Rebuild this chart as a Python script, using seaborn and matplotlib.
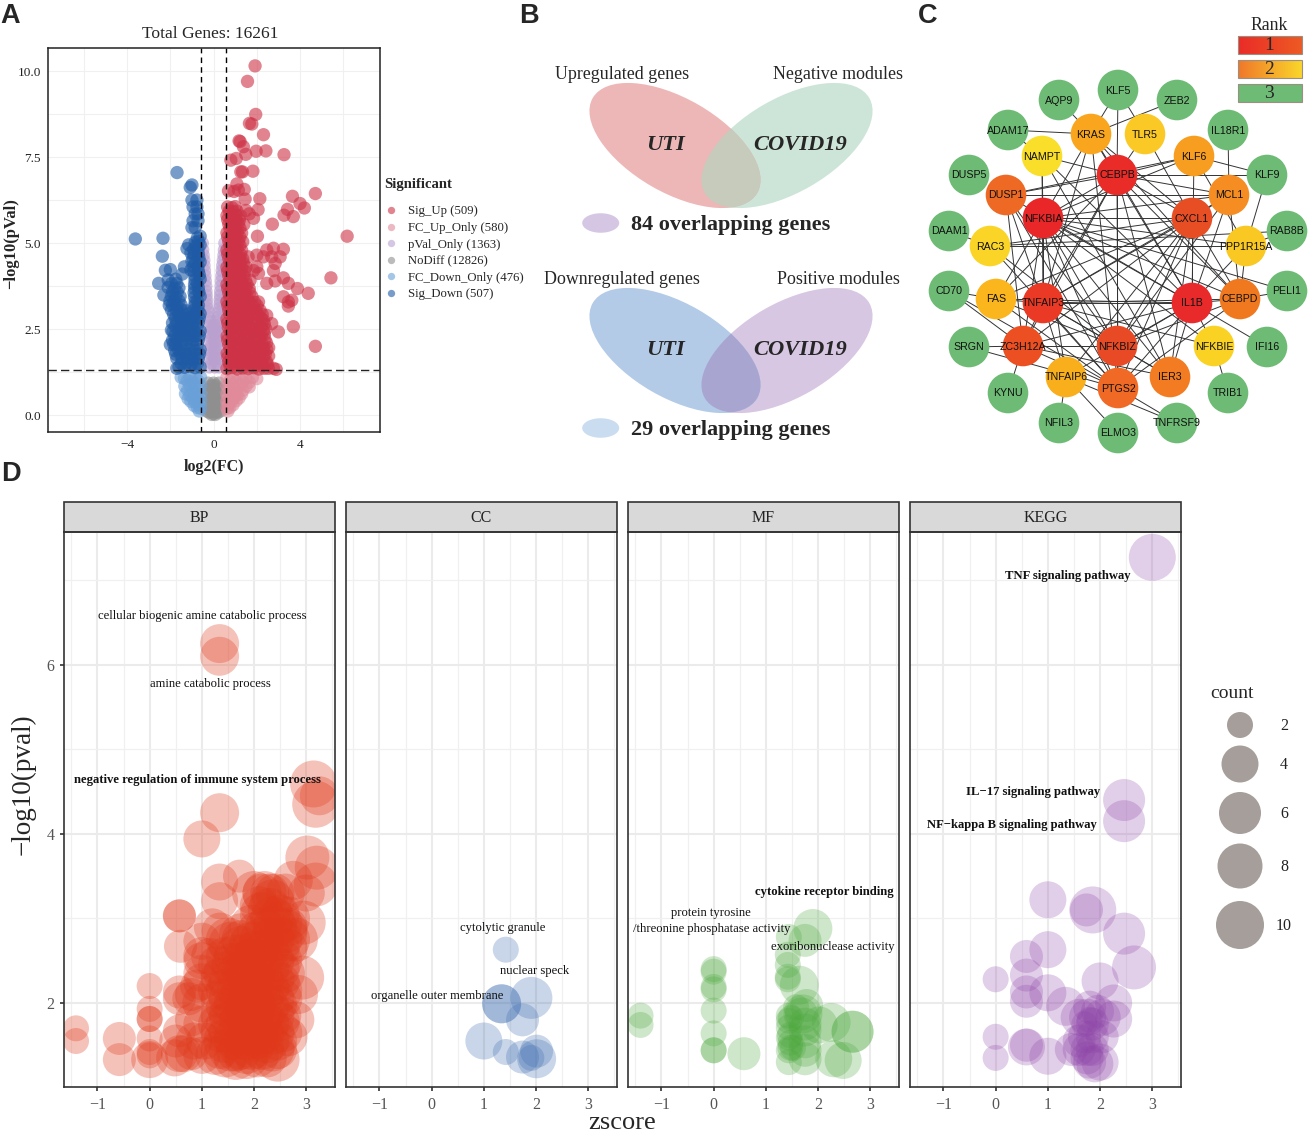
import numpy as np
import pandas as pd
import seaborn as sns
import matplotlib.pyplot as plt
from matplotlib.collections import LineCollection
from matplotlib.colors import LinearSegmentedColormap
from matplotlib.patches import Ellipse, Rectangle
from matplotlib.ticker import MultipleLocator

W, H = 1308, 1132

# ---- panel A, volcano points: (log2FC, -log10 p)
sig_up = [
    (1.92, 10.15), (1.57, 9.7), (1.95, 8.74), (1.66, 8.48), (1.77, 8.46), (2.31, 8.15), (1.18, 7.97), (1.23, 7.95),
    (1.38, 7.8), (1.49, 7.58), (1.97, 7.67), (2.42, 7.68), (3.26, 7.57), (0.8, 7.41), (1.05, 7.46), (1.26, 7.07),
    (1.34, 7.07), (1.82, 7.09), (1.08, 6.72), (1.42, 6.56), (0.69, 6.52), (1.15, 6.54), (0.95, 6.5), (1.46, 6.28),
    (2.14, 6.29), (3.65, 6.36), (4.71, 6.44), (4.0, 6.15), (4.2, 6.02), (3.42, 5.98), (3.26, 5.81), (3.69, 5.77),
    (2.06, 5.97), (1.85, 5.72), (2.72, 5.55), (6.18, 5.2), (2.03, 5.2), (1.65, 5.85), (1.5, 5.95),
    (3.23, 4.82), (2.77, 4.85), (2.46, 4.8), (2.0, 4.65), (2.31, 4.6), (2.69, 4.6), (3.08, 4.6), (2.85, 4.41),
    (2.0, 4.31), (1.85, 4.2), (2.08, 4.12), (2.77, 4.2), (2.46, 3.83), (2.85, 3.9), (3.23, 3.99), (3.46, 3.83),
    (3.88, 3.68), (4.38, 3.54), (5.43, 3.99), (3.23, 3.44), (3.46, 3.29), (3.62, 3.34), (3.46, 3.17), (3.69, 2.57),
    (3.0, 2.42), (4.71, 2.0), (2.46, 2.9), (2.69, 2.66), (2.31, 2.76), (2.08, 3.29), (2.46, 1.91), (2.77, 1.36),
    (2.54, 1.36), (1.69, 3.92), (1.6, 4.6), (2.9, 1.33),
    (0.62, 1.35), (0.85, 1.38), (1.1, 1.34), (1.35, 1.37), (1.6, 1.35), (1.85, 1.38), (2.1, 1.34), (2.35, 1.36),
    (0.7, 1.55), (0.95, 1.58), (1.2, 1.54), (1.45, 1.57), (1.7, 1.55), (1.95, 1.58), (2.2, 1.54), (2.45, 1.56),
    (0.63, 1.8), (0.88, 1.82), (1.12, 1.78), (1.38, 1.81), (1.62, 1.79), (1.88, 1.82), (2.15, 1.8), (2.4, 1.78),
    (0.7, 2.05), (0.95, 2.03), (1.2, 2.06), (1.45, 2.04), (1.72, 2.05), (2.0, 2.03), (2.25, 2.06), (2.45, 2.1),
    (0.63, 2.3), (0.9, 2.28), (1.15, 2.31), (1.42, 2.29), (1.68, 2.3), (1.95, 2.28), (2.2, 2.31), (2.35, 2.35),
    (0.68, 2.55), (0.93, 2.53), (1.2, 2.56), (1.45, 2.54), (1.7, 2.55), (1.95, 2.53), (2.2, 2.56),
    (0.62, 2.8), (0.88, 2.78), (1.12, 2.81), (1.38, 2.79), (1.6, 2.8), (1.85, 2.78), (2.2, 2.82),
    (0.7, 3.05), (0.95, 3.03), (1.2, 3.06), (1.45, 3.04), (1.7, 3.05), (1.95, 3.03), (2.15, 3.05),
    (0.62, 3.3), (0.88, 3.28), (1.15, 3.31), (1.4, 3.29), (1.65, 3.3), (1.9, 3.28),
    (0.7, 3.55), (0.95, 3.53), (1.2, 3.56), (1.45, 3.54), (1.68, 3.56),
    (0.62, 3.8), (0.85, 3.78), (1.1, 3.81), (1.35, 3.79), (1.55, 3.8),
    (0.7, 4.05), (0.95, 4.03), (1.2, 4.06), (1.4, 4.04),
    (0.62, 4.3), (0.88, 4.28), (1.1, 4.31), (1.3, 4.29), (1.5, 4.3),
    (0.7, 4.55), (0.95, 4.53), (1.2, 4.56), (1.35, 4.54),
    (0.62, 4.8), (0.9, 4.78), (1.1, 4.81), (1.3, 4.79),
    (0.7, 5.05), (0.95, 5.03), (1.15, 5.06), (1.35, 5.04),
    (0.62, 5.3), (0.88, 5.28), (1.1, 5.31), (1.3, 5.29),
    (0.7, 5.55), (0.95, 5.53), (1.15, 5.56), (1.4, 5.54),
    (0.62, 5.8), (0.85, 5.78), (1.05, 5.81), (1.25, 5.79),
    (0.65, 6.05), (0.85, 6.03), (1.0, 6.06),
    # the dense body, second pass
    (0.75, 1.45), (1.0, 1.46), (1.25, 1.44), (1.5, 1.47), (1.75, 1.45), (2.0, 1.46), (2.25, 1.44), (2.5, 1.47),
    (0.66, 1.68), (0.82, 1.7), (1.08, 1.67), (1.32, 1.69), (1.56, 1.67), (1.82, 1.7), (2.08, 1.68), (2.32, 1.69), (2.55, 1.72),
    (0.75, 1.93), (1.0, 1.94), (1.26, 1.92), (1.52, 1.95), (1.78, 1.93), (2.05, 1.92), (2.3, 1.95), (2.55, 1.96),
    (0.65, 2.18), (0.82, 2.16), (1.08, 2.19), (1.32, 2.17), (1.58, 2.18), (1.85, 2.17), (2.12, 2.19), (2.38, 2.2),
    (0.76, 2.43), (1.02, 2.42), (1.3, 2.44), (1.55, 2.42), (1.82, 2.43), (2.08, 2.42), (2.3, 2.45), (2.42, 2.5),
    (0.65, 2.68), (0.8, 2.66), (1.05, 2.68), (1.3, 2.67), (1.55, 2.69), (1.8, 2.66), (2.05, 2.68), (2.35, 2.65),
    (0.75, 2.93), (1.0, 2.91), (1.25, 2.93), (1.52, 2.92), (1.78, 2.94), (2.05, 2.92), (2.25, 2.93),
    (0.66, 3.18), (0.82, 3.16), (1.08, 3.18), (1.32, 3.17), (1.58, 3.19), (1.82, 3.17), (2.02, 3.18),
    (0.75, 3.43), (1.02, 3.41), (1.28, 3.43), (1.55, 3.42), (1.78, 3.44),
    (0.65, 3.68), (0.82, 3.66), (1.08, 3.68), (1.3, 3.67), (1.5, 3.69), (1.65, 3.68),
    (0.75, 3.93), (1.0, 3.91), (1.25, 3.93), (1.48, 3.92),
    (0.65, 4.18), (0.82, 4.16), (1.05, 4.18), (1.28, 4.17), (1.45, 4.18),
    (0.75, 4.43), (1.0, 4.41), (1.22, 4.43), (1.38, 4.42),
    (0.65, 4.68), (0.82, 4.66), (1.05, 4.68), (1.25, 4.67),
    (0.75, 4.93), (1.0, 4.91), (1.22, 4.93),
    (0.65, 5.18), (0.82, 5.16), (1.02, 5.18), (1.22, 5.17),
    (0.75, 5.43), (1.0, 5.41), (1.22, 5.43),
    (0.65, 5.68), (0.82, 5.66), (1.05, 5.68), (1.2, 5.67),
    (0.72, 5.93), (0.92, 5.91), (1.08, 5.93),
]
sig_down = [
    (-3.62, 5.12), (-2.34, 5.14), (-2.37, 4.62), (-2.23, 4.21), (-2.0, 4.23), (-2.54, 3.83), (-2.3, 3.49),
    (-1.69, 7.05), (-1.0, 6.69), (-1.08, 6.62), (-0.77, 6.25), (-1.0, 6.25), (-0.95, 6.05), (-0.77, 6.05),
    (-0.85, 5.85), (-0.72, 5.85), (-0.95, 5.65), (-0.72, 5.65), (-1.0, 5.45), (-0.85, 5.45), (-0.75, 5.15),
    (-0.62, 5.2), (-1.23, 4.84), (-1.15, 4.95), (-1.35, 4.31), (-1.45, 4.1),
    (-0.62, 1.4), (-0.85, 1.38), (-1.1, 1.41), (-1.35, 1.39), (-1.6, 1.4), (-1.7, 1.36),
    (-0.7, 1.65), (-0.95, 1.63), (-1.2, 1.66), (-1.45, 1.64), (-1.7, 1.65),
    (-0.62, 1.9), (-0.88, 1.88), (-1.12, 1.91), (-1.38, 1.89), (-1.62, 1.9), (-1.8, 1.88),
    (-2.0, 2.05), (-1.85, 2.07),
    (-0.7, 2.2), (-0.95, 2.18), (-1.2, 2.21), (-1.45, 2.19), (-1.7, 2.2), (-1.9, 2.18),
    (-0.62, 2.45), (-0.88, 2.43), (-1.12, 2.46), (-1.38, 2.44), (-1.62, 2.45), (-1.88, 2.43), (-1.95, 2.47),
    (-0.7, 2.7), (-0.95, 2.68), (-1.2, 2.71), (-1.45, 2.69), (-1.7, 2.7), (-1.9, 2.68),
    (-0.62, 2.95), (-0.88, 2.93), (-1.12, 2.96), (-1.38, 2.94), (-1.62, 2.95), (-1.85, 2.93),
    (-0.7, 3.2), (-0.88, 3.18), (-1.5, 3.2), (-1.7, 3.18), (-1.9, 3.21), (-2.05, 3.19),
    (-0.62, 3.45), (-0.88, 3.43), (-1.55, 3.45), (-1.75, 3.43), (-1.95, 3.46),
    (-0.7, 3.7), (-0.88, 3.68), (-1.6, 3.7), (-1.8, 3.68), (-2.1, 3.71),
    (-0.62, 3.95), (-0.86, 3.93), (-1.75, 3.95), (-2.1, 3.93),
    (-0.7, 4.2), (-0.9, 4.18), (-1.05, 4.22),
    (-0.62, 4.45), (-0.85, 4.43), (-1.0, 4.47),
    (-0.7, 4.7), (-0.9, 4.68), (-1.05, 4.72),
    (-0.62, 4.95), (-0.8, 4.93),
    # the dense body, second pass
    (-0.75, 1.5), (-1.0, 1.5), (-1.25, 1.52), (-1.5, 1.5), (-0.65, 1.78), (-0.82, 1.76), (-1.08, 1.78), (-1.3, 1.77),
    (-1.55, 1.78), (-1.75, 1.77), (-0.75, 2.05), (-1.0, 2.04), (-1.28, 2.05), (-1.52, 2.04), (-1.75, 2.05),
    (-0.66, 2.32), (-0.85, 2.3), (-1.08, 2.32), (-1.32, 2.31), (-1.55, 2.32), (-1.8, 2.31), (-0.76, 2.58), (-1.02, 2.56),
    (-1.28, 2.58), (-1.52, 2.57), (-1.78, 2.58), (-0.66, 2.83), (-0.82, 2.81), (-1.08, 2.83), (-1.3, 2.82), (-1.55, 2.83),
    (-1.78, 2.82), (-0.72, 3.07), (-0.9, 3.05), (-1.25, 3.03), (-1.48, 3.06), (-1.72, 3.05), (-1.95, 3.06),
    (-0.75, 3.32), (-0.85, 3.3), (-1.6, 3.32), (-1.82, 3.31), (-2.02, 3.32), (-0.68, 3.58), (-0.9, 3.56), (-1.68, 3.57),
    (-1.9, 3.58), (-0.75, 3.82), (-0.88, 3.8), (-1.7, 3.83), (-1.95, 3.82), (-0.66, 4.08), (-0.88, 4.06), (-0.72, 4.33),
    (-0.95, 4.32), (-0.68, 4.58), (-0.95, 4.57), (-0.72, 4.83), (-0.92, 4.82), (-0.7, 5.05), (-0.85, 5.02),
]
pval_only = [
    (-0.2, 1.4), (0.05, 1.4), (0.25, 1.4), (-0.2, 1.65), (0.05, 1.65), (0.25, 1.65), (-0.2, 1.9), (0.05, 1.9),
    (0.25, 1.9), (-0.2, 2.15), (0.05, 2.15), (0.25, 2.15), (-0.2, 2.4), (0.05, 2.4), (0.25, 2.4), (-0.2, 2.6),
    (0.03, 2.6), (0.2, 2.6), (-0.25, 2.85), (0.22, 2.85), (-0.3, 3.1), (0.28, 3.1), (-0.33, 3.35), (0.3, 3.35),
    (-0.35, 3.6), (0.33, 3.6), (-0.38, 3.9), (0.36, 3.9), (-0.42, 4.2), (0.4, 4.2), (-0.45, 4.5), (0.45, 4.5),
    (-0.5, 4.8), (0.5, 4.8), (0.52, 5.0), (-0.52, 5.0),
    (-0.1, 1.52), (0.12, 1.53), (-0.12, 1.78), (0.14, 1.77), (-0.1, 2.02), (0.12, 2.03), (-0.12, 2.28), (0.14, 2.27),
    (-0.08, 2.5), (0.1, 2.5), (-0.15, 2.72), (0.14, 2.73), (-0.26, 3.0), (0.25, 2.98), (-0.32, 3.22), (0.3, 3.23),
    (-0.34, 3.48), (0.32, 3.48), (-0.36, 3.75), (0.35, 3.75), (-0.4, 4.05), (0.38, 4.05), (-0.44, 4.35), (0.42, 4.35),
    (-0.48, 4.65), (0.48, 4.65),
]
fc_down = [
    (-0.6, 1.1), (-0.85, 1.08), (-1.1, 1.1), (-1.35, 1.07), (-1.5, 1.1), (-0.6, 0.85), (-0.85, 0.83), (-1.1, 0.86),
    (-1.33, 0.84), (-0.6, 0.6), (-0.85, 0.62), (-1.1, 0.58), (-1.3, 0.62), (-0.6, 0.4), (-0.85, 0.38), (-1.05, 0.4),
    (-0.6, 0.2), (-0.75, 0.22),
    (-0.72, 1.0), (-0.98, 0.98), (-1.22, 1.0), (-0.7, 0.73), (-0.95, 0.72), (-1.2, 0.73), (-0.72, 0.5), (-0.96, 0.5),
    (-1.18, 0.48), (-0.7, 0.3), (-0.9, 0.28), (-0.66, 0.12),
]
fc_up = [
    (0.62, 1.1), (0.9, 1.08), (1.2, 1.1), (1.5, 1.07), (1.8, 1.1), (2.0, 1.06), (0.62, 0.85), (0.9, 0.83),
    (1.2, 0.86), (1.5, 0.84), (1.65, 0.82), (0.62, 0.6), (0.9, 0.62), (1.1, 0.58), (1.3, 0.62), (0.62, 0.4),
    (0.8, 0.38), (1.05, 0.42), (0.62, 0.2), (0.75, 0.22),
    (0.75, 0.98), (1.05, 0.97), (1.35, 0.98), (1.65, 0.96), (0.75, 0.72), (1.05, 0.73), (1.35, 0.72), (0.72, 0.5),
    (0.95, 0.5), (1.18, 0.5), (0.7, 0.3), (0.9, 0.3), (0.66, 0.12),
]
no_diff = [
    (-0.25, 0.93), (0.0, 0.93), (0.25, 0.93), (-0.25, 0.75), (0.0, 0.75), (0.25, 0.75), (-0.25, 0.55), (0.0, 0.55),
    (0.25, 0.55), (-0.25, 0.35), (0.0, 0.35), (0.25, 0.35), (-0.32, 0.12), (-0.2, 0.08), (-0.08, 0.02), (0.08, 0.02),
    (0.2, 0.08), (0.32, 0.12),
    (-0.12, 0.85), (0.12, 0.85), (-0.12, 0.65), (0.12, 0.65), (-0.12, 0.45), (0.12, 0.45), (-0.12, 0.25), (0.12, 0.25),
    (0.0, 0.15), (-0.1, 0.1), (0.1, 0.1), (0.0, 0.05), (-0.02, 0.85), (0.02, 0.45),
]
group_names = ["Sig_Up", "FC_Up_Only", "pVal_Only", "NoDiff", "FC_Down_Only", "Sig_Down"]
group_totals = [509, 580, 1363, 12826, 476, 507]
group_colors = ["#cd3246", "#e08a9a", "#b9a0cf", "#8f8f8f", "#6aa0d8", "#1e5aa5"]

# ---- panel B
venn_top = ["Upregulated genes", "Negative modules", "84 overlapping genes"]
venn_bottom = ["Downregulated genes", "Positive modules", "29 overlapping genes"]

# ---- panel C, layout of the network in picture pixels
node_names = ["KLF5", "AQP9", "ZEB2", "ADAM17", "IL18R1", "DUSP5", "KLF9", "DAAM1", "RAB8B", "CD70", "PELI1", "SRGN",
              "IFI16", "KYNU", "TRIB1", "NFIL3", "TNFRSF9", "ELMO3", "KRAS", "TLR5", "NAMPT", "KLF6", "DUSP1", "MCL1",
              "RAC3", "PPP1R15A", "FAS", "CEBPD", "ZC3H12A", "NFKBIE", "TNFAIP6", "IER3", "PTGS2", "CEBPB", "NFKBIA",
              "CXCL1", "IL1B", "TNFAIP3", "NFKBIZ"]
node_x = [1118, 1059, 1177, 1008, 1228, 969, 1267, 949, 1287, 949, 1287, 969, 1267, 1008, 1228, 1059, 1177, 1118,
          1091, 1145, 1042, 1194, 1006, 1229, 990, 1246, 996, 1240, 1023, 1214, 1066, 1170, 1118, 1117, 1043, 1192,
          1192, 1043, 1117]
node_y = [90, 100, 100, 130, 130, 175, 175, 231, 231, 291, 291, 347, 347, 393, 393, 423, 423, 433, 134, 134, 156, 156,
          195, 195, 246, 246, 299, 299, 346, 346, 377, 377, 388, 175, 218, 218, 303, 303, 346]
node_colors = ["#6dbb74"] * 18 + ["#f9a61e", "#fbc926", "#f9de2a", "#f79d20", "#ee6a24", "#f58d22", "#fad527", "#fac822",
                                  "#fbb61e", "#f0781f", "#eb4f22", "#fad224", "#f9ae1b", "#f37c22", "#f06a25", "#ea2c28",
                                  "#e92728", "#e84e24", "#e92a2b", "#ea3a26", "#e84a25"]
edge_map = {
    "CEBPB": ["KLF6", "MCL1", "DUSP1", "NFKBIA", "CXCL1", "IL1B", "TNFAIP3", "NFKBIZ", "PTGS2", "ZC3H12A", "KLF9", "KRAS",
              "TLR5", "NAMPT", "FAS", "CEBPD", "IER3", "KLF5"],
    "NFKBIA": ["KRAS", "NAMPT", "CXCL1", "IL1B", "TNFAIP3", "NFKBIZ", "PTGS2", "CEBPD", "ZC3H12A", "MCL1", "KLF6", "IER3",
               "PELI1", "NFKBIE", "TNFAIP6", "PPP1R15A", "FAS"],
    "CXCL1": ["IL1B", "TNFAIP3", "NFKBIZ", "PTGS2", "MCL1", "ZC3H12A", "FAS", "KRAS", "TLR5", "CEBPD", "IER3", "TNFAIP6", "RAC3"],
    "IL1B": ["TNFAIP3", "NFKBIZ", "PTGS2", "ZC3H12A", "MCL1", "KRAS", "FAS", "DUSP1", "NFKBIE", "IER3", "TNFAIP6", "CEBPD",
             "IFI16", "PPP1R15A", "NAMPT", "KLF6"],
    "TNFAIP3": ["NFKBIZ", "PTGS2", "ZC3H12A", "DUSP1", "KRAS", "NAMPT", "FAS", "NFKBIE", "IER3", "MCL1", "TNFAIP6", "CEBPD"],
    "NFKBIZ": ["PTGS2", "ZC3H12A", "DUSP1", "RAC3", "IER3", "CEBPD", "MCL1", "FAS"],
    "PTGS2": ["ZC3H12A", "CD70", "SRGN", "TNFRSF9", "FAS", "RAC3", "CEBPD", "DUSP1", "KRAS"],
    "KRAS": ["AQP9", "ZEB2", "ADAM17", "KLF5", "CEBPD"],
    "TLR5": ["KLF5"],
    "NAMPT": ["ADAM17", "IER3"],
    "IL18R1": ["MCL1"],
    "KLF9": ["PPP1R15A", "KLF6"],
    "RAB8B": ["PPP1R15A", "RAC3"],
    "PPP1R15A": ["RAC3", "CEBPD"],
    "PELI1": ["CEBPD"],
    "TRIB1": ["NFKBIE"],
    "DAAM1": ["RAC3"],
    "CD70": ["FAS", "ZC3H12A"],
    "SRGN": ["ZC3H12A"],
    "KYNU": ["ZC3H12A"],
    "NFIL3": ["TNFAIP6"],
    "ELMO3": ["TNFAIP6"],
    "TNFRSF9": ["TNFAIP6"],
    "ZC3H12A": ["IER3", "DUSP1"],
    "KLF6": ["DUSP1", "PPP1R15A"],
    "MCL1": ["CEBPD", "DUSP1"],
}

# ---- panel D, bubbles: (zscore, -log10 p, count)
bp_terms = [
    (1.34, 6.25, 5), (1.34, 6.1, 5), (1.34, 4.25, 5), (1.0, 3.94, 4), (3.14, 4.59, 10), (3.25, 4.45, 5), (3.18, 4.35, 10),
    (1.34, 3.43, 4), (1.72, 3.5, 3), (1.34, 3.21, 4), (0.57, 3.03, 3), (0.57, 3.03, 3), (0.59, 2.67, 3), (1.0, 2.73, 4),
    (1.0, 2.56, 4), (1.0, 2.5, 4), (1.0, 2.25, 4), (0.0, 2.2, 2), (0.0, 1.93, 2), (0.0, 1.81, 2), (0.0, 1.58, 2),
    (0.0, 1.38, 2), (0.0, 1.33, 4), (0.0, 1.81, 2), (-1.41, 1.7, 2), (-1.41, 1.55, 2), (-0.58, 1.58, 3), (-0.58, 1.33, 3),
    (0.57, 2.13, 3), (0.57, 2.05, 3), (0.57, 1.67, 3), (0.57, 1.4, 4), (0.48, 1.35, 4), (0.8, 1.4, 3), (1.0, 1.38, 4),
    (1.05, 1.55, 4), (1.0, 1.75, 4), (1.0, 2.0, 5), (0.8, 2.1, 3), (0.8, 1.8, 3), (0.0, 1.42, 2),
    (0.5, 1.55, 3), (0.65, 1.4, 4), (0.85, 1.55, 4), (0.75, 2.05, 3), (1.0, 2.35, 4), (1.15, 2.55, 4), (0.9, 2.2, 3),
    (1.2, 2.9, 4), (1.35, 2.85, 4),
    (3.02, 3.72, 7), (3.2, 3.6, 7), (3.18, 3.4, 7), (2.75, 3.45, 5), (2.6, 3.3, 5), (3.0, 3.3, 4),
    (2.95, 2.95, 7), (2.8, 2.75, 7), (2.92, 2.3, 7), (2.85, 2.1, 5), (2.8, 1.8, 4), (2.65, 1.6, 5),
    (2.0, 3.3, 7), (2.2, 3.3, 7), (2.4, 3.3, 5), (2.1, 3.15, 5), (2.3, 3.1, 7), (2.5, 3.05, 5), (2.65, 3.0, 7),
    (2.2, 2.9, 5), (2.4, 2.9, 7), (2.6, 2.85, 7), (2.05, 2.85, 5), (1.75, 2.75, 5), (1.55, 2.7, 7),
    (1.45, 2.55, 5), (1.65, 2.55, 7), (1.85, 2.6, 5), (2.05, 2.6, 7), (2.25, 2.62, 7), (2.45, 2.65, 7), (2.65, 2.65, 5),
    (1.45, 2.35, 7), (1.65, 2.35, 5), (1.85, 2.38, 7), (2.05, 2.4, 5), (2.25, 2.4, 7), (2.45, 2.4, 7), (2.6, 2.35, 5),
    (1.5, 2.15, 7), (1.7, 2.18, 7), (1.9, 2.15, 5), (2.1, 2.2, 7), (2.3, 2.18, 5), (2.5, 2.15, 7),
    (1.45, 1.95, 5), (1.65, 1.98, 7), (1.85, 1.95, 7), (2.05, 2.0, 5), (2.25, 1.95, 7), (2.45, 1.98, 5),
    (1.5, 1.75, 7), (1.7, 1.78, 5), (1.9, 1.75, 7), (2.1, 1.8, 7), (2.3, 1.75, 5), (2.5, 1.78, 5),
    (1.45, 1.55, 7), (1.65, 1.58, 7), (1.85, 1.55, 5), (2.05, 1.6, 7), (2.25, 1.55, 7), (2.45, 1.55, 5),
    (1.25, 1.38, 5), (1.45, 1.38, 7), (1.65, 1.35, 7), (1.85, 1.36, 7), (2.05, 1.38, 7), (2.25, 1.35, 5), (2.45, 1.33, 7),
    (1.3, 1.75, 5), (1.3, 2.15, 5), (1.3, 2.45, 5), (1.65, 1.42, 5), (1.85, 1.42, 7), (2.45, 1.45, 5),
    # the solid core, second pass
    (1.5, 2.75, 7), (1.6, 2.45, 7), (1.55, 2.25, 7), (1.55, 2.05, 7), (1.55, 1.85, 7), (1.55, 1.65, 7), (1.55, 1.45, 7),
    (1.75, 2.8, 7), (1.75, 2.65, 7), (1.75, 2.45, 7), (1.75, 2.25, 7), (1.75, 2.05, 7), (1.75, 1.85, 7), (1.75, 1.65, 7),
    (1.75, 1.47, 7), (1.95, 2.9, 7), (1.95, 2.7, 7), (1.95, 2.5, 7), (1.95, 2.28, 7), (1.95, 2.05, 7), (1.95, 1.85, 7),
    (1.95, 1.65, 7), (1.95, 1.47, 7), (2.15, 3.05, 7), (2.15, 2.75, 7), (2.15, 2.5, 7), (2.15, 2.3, 7), (2.15, 2.08, 7),
    (2.15, 1.85, 7), (2.15, 1.65, 7), (2.15, 1.47, 7), (2.35, 3.2, 7), (2.35, 3.0, 7), (2.35, 2.75, 7), (2.35, 2.5, 7),
    (2.35, 2.28, 7), (2.35, 2.05, 7), (2.35, 1.85, 7), (2.35, 1.65, 7), (2.35, 1.45, 7), (2.5, 2.95, 7), (2.5, 2.75, 7),
    (2.5, 2.5, 7), (2.5, 2.25, 5), (2.55, 2.05, 5), (2.55, 1.85, 4), (2.55, 1.65, 5), (1.35, 2.3, 5), (1.35, 2.05, 5),
    (1.35, 1.85, 5), (1.35, 1.65, 5), (1.35, 1.45, 5), (2.65, 2.75, 7), (2.65, 2.9, 5), (2.3, 3.3, 5), (2.15, 3.3, 5),
]
cc_terms = [
    (1.42, 2.63, 2), (1.91, 2.06, 6), (1.34, 1.99, 5), (1.74, 1.8, 3), (1.0, 1.55, 4), (1.42, 1.42, 2), (1.74, 1.36, 3),
    (2.01, 1.43, 3), (2.01, 1.34, 5), (1.91, 1.35, 2), (1.34, 1.99, 5),
]
mf_terms = [
    (1.9, 2.88, 5), (1.75, 2.74, 3), (1.44, 2.78, 2), (1.42, 2.57, 2), (1.42, 2.45, 2), (1.42, 2.31, 2), (1.64, 2.21, 5),
    (1.42, 2.28, 2), (0.0, 2.4, 2), (0.0, 2.37, 2), (0.0, 2.19, 2), (0.0, 2.16, 2), (0.0, 1.91, 2), (0.0, 1.64, 2),
    (0.0, 1.44, 2), (0.0, 1.44, 2), (-1.4, 1.85, 2), (-1.4, 1.74, 2), (0.58, 1.4, 3), (2.25, 1.77, 5), (2.66, 1.66, 6),
    (2.66, 1.66, 6), (2.48, 1.32, 4), (2.3, 1.34, 4), (2.02, 1.74, 4), (1.71, 1.87, 5), (1.68, 1.87, 3), (1.44, 1.85, 2),
    (1.44, 1.79, 2), (1.44, 1.71, 2), (1.44, 1.59, 2), (1.47, 1.53, 2), (1.47, 1.47, 2), (1.44, 1.44, 2), (1.44, 1.3, 2),
    (1.75, 1.75, 3), (1.75, 1.68, 3), (1.75, 1.54, 3), (1.75, 1.44, 3), (1.75, 1.34, 3), (1.58, 1.95, 2), (1.78, 1.97, 3),
    (1.52, 1.47, 2), (1.48, 1.82, 2), (1.46, 1.62, 2),
]
kegg_terms = [
    (3.0, 7.27, 10), (2.46, 4.4, 6), (2.46, 4.15, 6), (1.0, 3.22, 4), (1.86, 3.1, 10), (1.74, 3.1, 3), (2.46, 2.82, 6),
    (2.65, 2.42, 7), (1.0, 2.63, 4), (0.59, 2.55, 3), (0.59, 2.33, 3), (0.0, 2.28, 2), (0.59, 2.13, 3), (0.59, 2.02, 3),
    (1.0, 2.12, 4), (1.34, 1.96, 5), (2.0, 2.26, 4), (2.26, 2.0, 4), (2.26, 1.81, 4), (1.6, 1.83, 4), (1.76, 1.83, 4),
    (2.04, 1.83, 4), (1.8, 1.95, 3), (1.95, 1.9, 3), (0.0, 1.6, 2), (0.0, 1.35, 2), (0.59, 1.5, 3), (0.59, 1.48, 4),
    (1.0, 1.37, 4), (1.45, 1.45, 3), (1.6, 1.55, 3), (2.04, 1.6, 3), (1.75, 1.45, 3), (1.85, 1.45, 3), (1.6, 1.45, 3),
    (1.9, 1.28, 4), (2.0, 1.3, 4), (1.75, 1.35, 3), (1.85, 1.6, 3), (1.7, 1.6, 3), (1.85, 1.75, 3), (1.7, 1.75, 2),
    (1.8, 1.3, 3), (1.8, 1.8, 2),
]
facet_names = ["BP", "CC", "MF", "KEGG"]
facet_colors = ["#e0381a", "#3d6cb0", "#4ca83c", "#8e44a8"]
facet_alpha = [0.3, 0.28, 0.27, 0.26]
legend_counts = [2, 4, 6, 8, 10]
bubble_px = {2: 26, 3: 33, 4: 37, 5: 39, 6: 42, 7: 44, 8: 45, 10: 47}

sns.set_style("ticks")
plt.rcParams["font.family"] = ["Liberation Serif", "DejaVu Sans"]

fig = plt.figure(figsize=(W / 100, H / 100), dpi=100)


def box(x0, y0, x1, y1):
    return [x0 / W, 1 - y1 / H, (x1 - x0) / W, (y1 - y0) / H]


# ---- A
ax = fig.add_axes(box(48, 48, 380, 432))
frames = []
for name, total, pts in zip(group_names, group_totals,
                            [sig_up, fc_up, pval_only, no_diff, fc_down, sig_down]):
    part = pd.DataFrame(pts, columns=["log2FC", "logp"])
    part["group"] = f"{name} ({total})"
    frames.append(part)
labels = [f"{n} ({t})" for n, t in zip(group_names, group_totals)]
# draw order: grey first, significant on top
volcano = pd.concat([frames[3], frames[2], frames[4], frames[1], frames[0], frames[5]])
sns.scatterplot(data=volcano, x="log2FC", y="logp", hue="group", hue_order=labels,
                palette=dict(zip(labels, group_colors)), s=92, alpha=0.6, linewidth=0, ax=ax)
ax.set_xlim(-7.66, 7.7)
ax.set_ylim(-0.49, 10.67)
ax.set_xticks([-4, 0, 4])
ax.set_yticks([0, 2.5, 5, 7.5, 10])
ax.set_yticklabels(["0.0", "2.5", "5.0", "7.5", "10.0"])
ax.xaxis.set_minor_locator(MultipleLocator(2))
ax.yaxis.set_minor_locator(MultipleLocator(1.25))
ax.grid(which="both", color="#f0f0f0", lw=0.8)
ax.set_axisbelow(True)
ax.tick_params(which="both", length=0, labelsize=9.5, colors="#222222", pad=5)
for s in ax.spines.values():
    s.set_visible(True)
    s.set_linewidth(1.1)
    s.set_color("#222222")
ax.axvline(-0.585, color="k", ls=(0, (4, 3)), lw=1)
ax.axvline(0.585, color="k", ls=(0, (4, 3)), lw=1)
ax.axhline(1.3, color="#222222", ls=(0, (6, 3)), lw=1)
ax.set_xlabel("log2(FC)", fontweight="bold", fontsize=11.5)
ax.set_ylabel("\u2212log10(pVal)", fontweight="bold", fontsize=12)
ax.xaxis.set_label_coords(0.5, -0.07)
ax.yaxis.set_label_coords(-0.088, 0.49)
ax.set_title("Total Genes: 16261", fontsize=12.6, pad=7, x=0.49)
handles, leg_labels = ax.get_legend_handles_labels()
leg = ax.legend(handles, leg_labels, title="Significant", loc="upper left", bbox_to_anchor=(373 / W, 1 - 167 / H),
                bbox_transform=fig.transFigure, frameon=False, fontsize=9.2, markerscale=0.55, labelspacing=0.36,
                alignment="left", title_fontproperties={"weight": "bold", "size": 10.5}, handlelength=1,
                handletextpad=0.85)
leg._legend_box.sep = 10

# ---- D
for i, (name, color, terms) in enumerate(zip(facet_names, facet_colors, [bp_terms, cc_terms, mf_terms, kegg_terms])):
    x0 = 64 + i * 282
    axd = fig.add_axes(box(x0, 532, x0 + 270.5, 1087))
    df = pd.DataFrame(terms, columns=["zscore", "logp", "count"])
    axd.set_xticks([-1, 0, 1, 2, 3])
    axd.xaxis.set_minor_locator(MultipleLocator(0.5))
    axd.yaxis.set_minor_locator(MultipleLocator(1))
    axd.set_yticks([2, 4, 6])
    axd.grid(which="major", color="#ebebeb", lw=1.5)
    axd.grid(which="minor", color="#f0f0f0", lw=0.9)
    axd.set_axisbelow(True)
    sns.scatterplot(data=df, x="zscore", y="logp", size="count",
                    sizes={c: (d * 0.72) ** 2 for c, d in bubble_px.items()},
                    color=color, alpha=facet_alpha[i], linewidth=0, legend=False, ax=axd)
    axd.set_xlim(-1.64, 3.54)
    axd.set_ylim(1.006, 7.57)
    axd.set_xlabel("")
    axd.set_ylabel("")
    axd.tick_params(which="minor", length=0)
    axd.tick_params(which="major", length=3, width=1.2, color="#333333", labelsize=11.5, labelcolor="#555555", pad=4)
    if i > 0:
        axd.tick_params(axis="y", which="both", left=False, labelleft=False)
    for s in axd.spines.values():
        s.set_visible(True)
        s.set_linewidth(1.2)
        s.set_color("#333333")
    axd.add_patch(Rectangle((0, 1), 1, 30 / 555, transform=axd.transAxes, fc="#d9d9d9", ec="#333333", lw=1.2,
                            clip_on=False))
    axd.text(0.5, 1 + 14 / 555, name, transform=axd.transAxes, ha="center", va="center", fontsize=11.5, color="#222222")

# ---- overlay for the panels B, C and free text, in picture pixels
over = fig.add_axes([0, 0, 1, 1], facecolor="none")
over.set_xlim(0, W)
over.set_ylim(H, 0)
over.axis("off")

for letter, lx, ly in [("A", 10, 16), ("B", 529, 16), ("C", 928, 16), ("D", 11, 474)]:
    over.text(lx, ly, letter, family="Liberation Sans", fontweight="bold", fontsize=19.5, ha="center", va="center")


# ---- B
def venn(cy, left, right, both):
    cx_l, cx_r = 675, 787
    e1 = Ellipse((cx_l, cy), 190, 94, angle=30, fc=left, ec="none")
    e2 = Ellipse((cx_r, cy), 190, 94, angle=-30, fc=right, ec="none")
    e3 = Ellipse((cx_r, cy), 190, 94, angle=-30, fc=both, ec="none")
    over.add_patch(e2)
    over.add_patch(e1)
    over.add_patch(e3)
    e3.set_clip_path(Ellipse((cx_l, cy), 190, 94, angle=30, transform=over.transData))


venn(145.5, "#eeb7b7", "#cde5d8", "#c6cbbb")
venn(350.5, "#b4cbe8", "#d7c7e2", "#a8a6d1")
for cy, names, dot in [(73, venn_top, "#d5c7e3"), (278, venn_bottom, "#c9dcf0")]:
    over.text(622, cy + 1.5, names[0], ha="center", va="center", fontsize=12.9)
    over.text(838, cy + 1.5, names[1], ha="center", va="center", fontsize=12.9)
    over.text(666, cy + 72, "UTI", ha="center", va="center", fontsize=16.2, fontweight="bold", fontstyle="italic")
    over.text(800, cy + 72, "COVID19", ha="center", va="center", fontsize=16.2, fontweight="bold", fontstyle="italic")
    over.text(730.5, cy + 152, names[2], ha="center", va="center", fontsize=16, fontweight="bold")
    over.add_patch(Ellipse((600.7, cy + 150), 37, 19.5, fc=dot, ec="none"))

# ---- C
index = dict(zip(node_names, range(len(node_names))))
segments = []
for a, targets in edge_map.items():
    for b in targets:
        segments.append([(node_x[index[a]], node_y[index[a]]), (node_x[index[b]], node_y[index[b]])])
over.add_collection(LineCollection(segments, colors="#333333", linewidths=0.7, zorder=1))
nodes = pd.DataFrame({"x": node_x, "y": node_y, "name": node_names})
sns.scatterplot(data=nodes, x="x", y="y", hue="name", palette=dict(zip(node_names, node_colors)), s=(40.6 * 0.72) ** 2,
                linewidth=0, legend=False, zorder=2, ax=over)
for nx, ny, nm in zip(node_x, node_y, node_names):
    over.text(nx, ny + 0.5, nm, family="Liberation Sans", fontsize=7.7, ha="center", va="center", color="#111111", zorder=3)

over.text(1269, 25.5, "Rank", ha="center", va="center", fontsize=12.8)
rank_ramps = [["#ea2c28", "#ee5a24"], ["#f0782a", "#fad52a"], ["#6dbb74", "#6dbb74"]]
for k, (ramp, y0) in enumerate(zip(rank_ramps, [36, 60, 84])):
    cmap = LinearSegmentedColormap.from_list(f"rank{k}", ramp)
    over.imshow(np.linspace(0, 1, 64).reshape(1, -1), cmap=cmap, extent=(1238, 1302, y0 + 18, y0), aspect="auto", zorder=2)
    over.add_patch(Rectangle((1238, y0), 64, 18, fc="none", ec="#9a8f80", lw=0.8, zorder=3))
    over.text(1269, y0 + 9.5, str(k + 1), ha="center", va="center", fontsize=14, zorder=4)

# ---- D, free text
term_labels = [
    ("cellular biogenic amine catabolic process", 202, 616, "normal"),
    ("amine catabolic process", 210, 684, "normal"),
    ("negative regulation of immune system process", 197, 780, "bold"),
    ("cytolytic granule", 503, 928, "normal"),
    ("nuclear speck", 535, 971, "normal"),
    ("organelle outer membrane", 437, 996, "normal"),
    ("cytokine receptor binding", 824, 892, "bold"),
    ("protein tyrosine", 711, 913, "normal"),
    ("/threonine phosphatase activity", 712, 929, "normal"),
    ("exoribonuclease activity", 833, 947, "normal"),
    ("TNF signaling pathway", 1068, 576, "bold"),
    ("IL\u221217 signaling pathway", 1033, 792, "bold"),
    ("NF\u2212kappa B signaling pathway", 1012, 825, "bold"),
]
for txt, tx, ty, weight in term_labels:
    over.text(tx, ty, txt, ha="center", va="center", fontsize=9.1, fontweight=weight, color="#111111", zorder=5)
over.text(622, 1123, "zscore", ha="center", va="center", fontsize=19)
over.text(23, 784, "\u2212log10(pval)", ha="center", va="center", rotation=90, fontsize=19.5)

over.text(1232, 693, "count", ha="center", va="center", fontsize=14)
legend_df = pd.DataFrame({"x": [1240] * 5, "y": [725, 764, 813, 866, 925], "count": legend_counts})
sns.scatterplot(data=legend_df, x="x", y="y", size="count",
                sizes={2: (26 * 0.72) ** 2, 4: (37 * 0.72) ** 2, 6: (42 * 0.72) ** 2, 8: (45 * 0.72) ** 2, 10: (48 * 0.72) ** 2},
                color="#a59e9a", linewidth=0, legend=False, ax=over)
for c, ly in zip(legend_counts, legend_df["y"]):
    over.text(1284, ly + 1, str(c), ha="center", va="center", fontsize=11.5, color="#222222")
over.set_xlim(0, W)
over.set_ylim(H, 0)
over.axis("off")

fig.savefig("out.png", dpi=100)
